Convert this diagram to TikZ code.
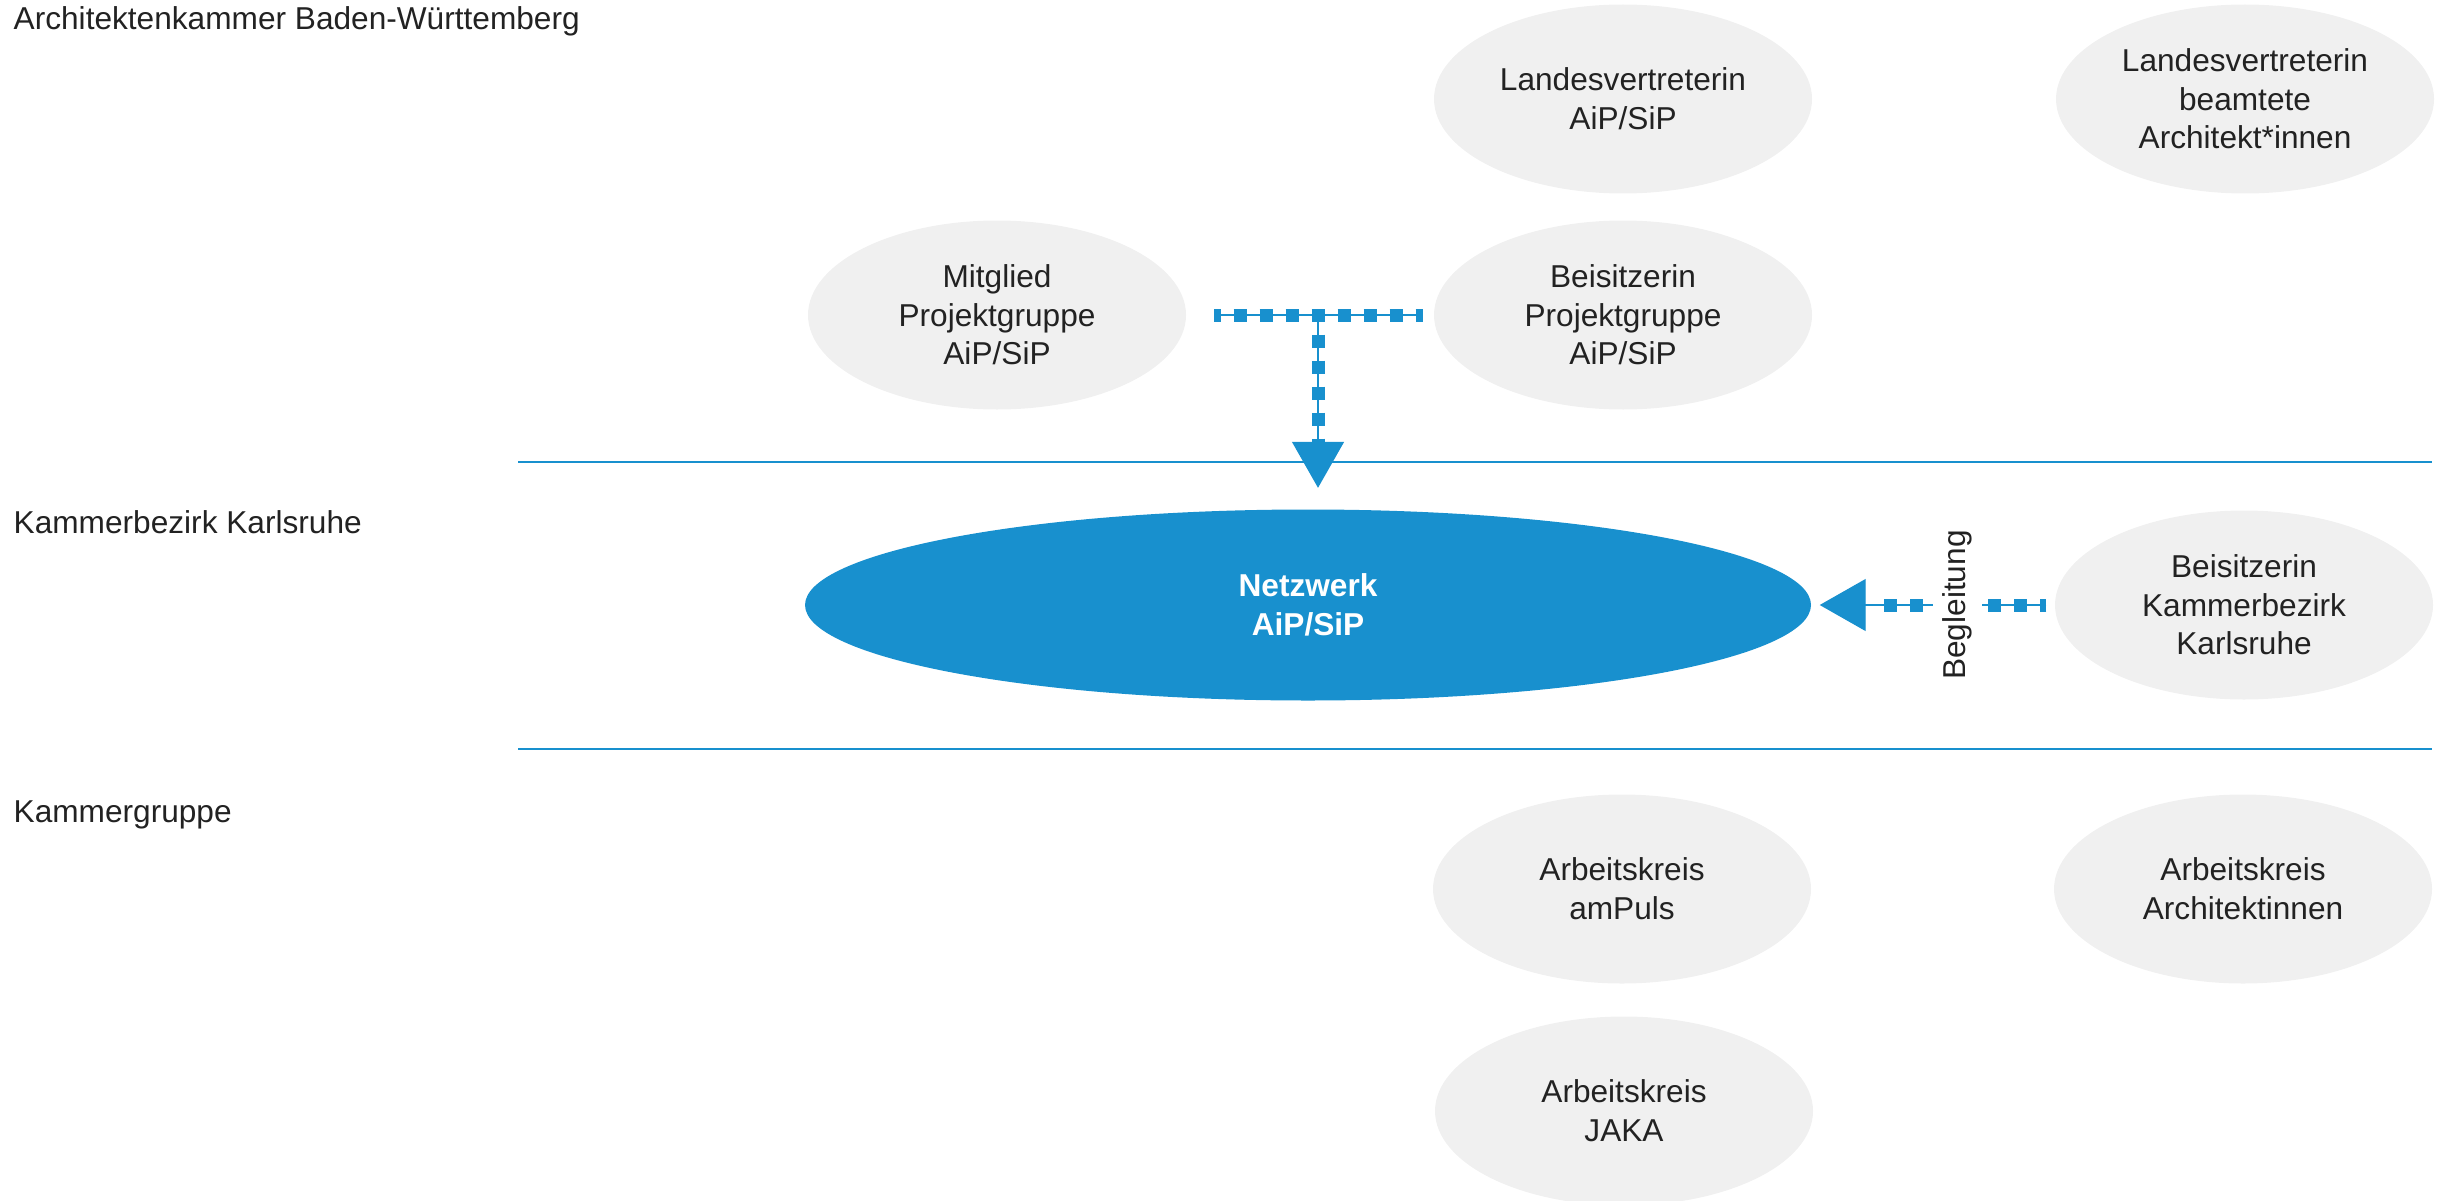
\documentclass[tikz,border=0pt]{standalone}
\usepackage{fontspec}
\setmainfont{Liberation Sans}
\usetikzlibrary{shapes.geometric,arrows.meta}
\definecolor{akblue}{RGB}{24,144,206}
\definecolor{akgrey}{RGB}{240,240,240}
\definecolor{aktext}{RGB}{34,34,34}
\tikzset{
  bubble/.style={ellipse, fill=akgrey, inner sep=0pt, minimum width=37.8mm, minimum height=18.9mm,
    align=center, text=aktext, font=\fontsize{9pt}{11pt}\selectfont},
  ebene/.style={anchor=base west, inner sep=0pt, text=aktext, font=\fontsize{9pt}{11pt}\selectfont},
  begl/.style={rotate=90, fill=white, inner xsep=0pt, inner ysep=1mm, text=aktext,
    font=\fontsize{9pt}{11pt}\selectfont},
  trenn/.style={draw=akblue, line width=0.2mm},
  link/.style={draw=akblue, line width=0.13mm},
  sq/.style={postaction={draw=akblue, arrows=-, line width=1.3mm, dash pattern=on 1.3mm off 1.3mm,
    dash phase=0.65mm, shorten >=#1}},
  sq/.default=0mm,
  pfeil/.style={-{Triangle[width=5.2mm,length=4.6mm]}}
}
\begin{document}
\begin{tikzpicture}[x=0.1mm,y=-0.1mm]
\useasboundingbox (0,0) rectangle (2441,1200);
% Ebenen
\node[ebene] (lbw) at (13,30) {Architektenkammer Baden-Württemberg};
\node[ebene] (lkbk) at (13,533) {Kammerbezirk Karlsruhe};
\node[ebene] (lkg) at (13,822) {Kammergruppe};
\draw[trenn] (518,462) -- (2432,462);
\draw[trenn] (518,749) -- (2432,749);
% Landesebene
\node[bubble] (lvaip) at (1623,99) {Landesvertreterin\\AiP/SiP};
\node[bubble] (lvbeamt) at (2245,99) {Landesvertreterin\\beamtete\\Architekt*innen};
\node[bubble] (mitglied) at (997,315) {Mitglied\\Projektgruppe\\AiP/SiP};
\node[bubble] (beisitzpg) at (1623,315) {Beisitzerin\\Projektgruppe\\AiP/SiP};
% Kammerbezirk
\node[bubble, fill=akblue, text=white, font=\fontsize{9pt}{11pt}\selectfont\bfseries,
  minimum width=100.6mm, minimum height=19.1mm] (netz) at (1308,605) {Netzwerk\\AiP/SiP};
\node[bubble] (bkk) at (2244,605) {Beisitzerin\\Kammerbezirk\\Karlsruhe};
% Kammergruppe
\node[bubble] (akpuls) at (1622,889) {Arbeitskreis\\amPuls};
\node[bubble] (akarch) at (2243,889) {Arbeitskreis\\Architektinnen};
\node[bubble] (akjaka) at (1624,1111) {Arbeitskreis\\JAKA};
% Verbindungen
\coordinate (tl) at (1214,315);
\coordinate (tr) at (1423,315);
\coordinate (joint) at (1318,315);
\draw[link, sq] (tl) -- (tr);
\draw[link, sq=6.7mm, pfeil, shorten >=2.1mm] (joint) -- (joint |- netz.north);
\draw[link, sq=6.2mm, pfeil, shorten <=0.8mm, shorten >=0.8mm] (bkk.west)
  -- node[begl, pos=0.4] (begleit) {Begleitung} (netz.east);
\end{tikzpicture}
\end{document}
